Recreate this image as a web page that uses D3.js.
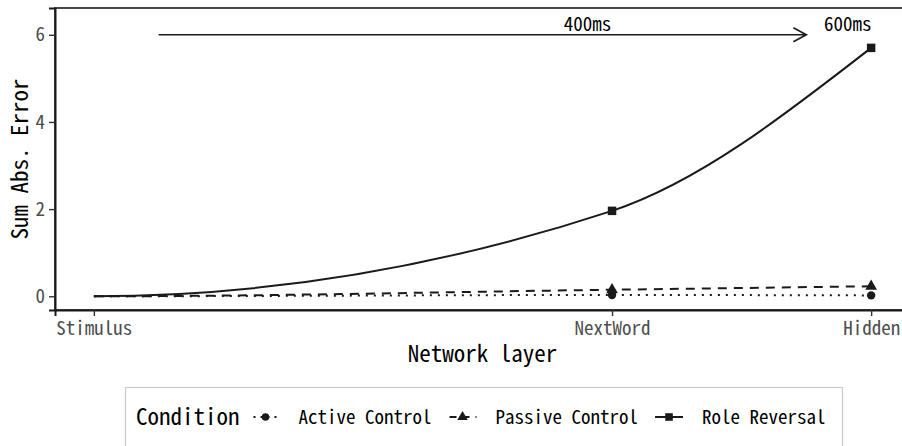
<!DOCTYPE html>
<html>
<head>
<meta charset="utf-8">
<script src="https://cdn.jsdelivr.net/npm/d3@7.9.0/dist/d3.min.js"></script>
<style>
  body { margin: 0; background: #fff; }
  svg { display: block; }
  text { font-family: "Noto Sans Mono CJK JP", "Noto Sans Mono CJK SC", "DejaVu Sans Mono", monospace; }
</style>
</head>
<body>
<svg width="902" height="446"></svg>
<script>
// data
const layers = ['Stimulus', 'NextWord', 'Hidden'];
const layerTimes = [0, 400, 600];           // ms, x positions of the layers
const yTicks = [0, 2, 4, 6];
const conditions = ['Active Control', 'Passive Control', 'Role Reversal'];
const activeControl = [0, 0.03, 0.02];
const passiveControl = [0, 0.15, 0.23];
const roleReversal = [0, 1.96, 5.70];
const arrowTimes = [50, 550];
const arrowLevel = 6;
const noteLabels = ['400ms', '600ms'];
const noteTimes = [381, 582];
const noteLevel = 6.25;

const seriesValues = [activeControl, passiveControl, roleReversal];
const dashes = ['2,6', '9,7', null];
const shapes = [d3.symbolCircle, d3.symbolTriangle, d3.symbolSquare];
const shapeSizes = [55, 60, 72];

const svg = d3.select('svg');
const ink = '#1a1a1a';

const x = d3.scaleLinear().domain([-30, 630]).range([55, 910]);
const y = d3.scaleLinear().domain([-0.315, 6.615]).range([310, 8]);

// cubic hermite curve: flat start, monotone slopes elsewhere
function curveSmooth(context) {
  let pts;
  return {
    areaStart() {}, areaEnd() {},
    lineStart() { pts = []; },
    point(px, py) { pts.push([+px, +py]); },
    lineEnd() {
      const n = pts.length;
      if (!n) return;
      const s = [], m = new Array(n).fill(0);
      for (let i = 0; i < n - 1; i++) s.push((pts[i + 1][1] - pts[i][1]) / (pts[i + 1][0] - pts[i][0]));
      for (let i = 1; i < n - 1; i++) {
        const h0 = pts[i][0] - pts[i - 1][0], h1 = pts[i + 1][0] - pts[i][0];
        const p = (s[i - 1] * h1 + s[i] * h0) / (h0 + h1);
        m[i] = (Math.sign(s[i - 1]) + Math.sign(s[i])) *
          Math.min(Math.abs(s[i - 1]), Math.abs(s[i]), 0.5 * Math.abs(p)) || 0;
      }
      if (n > 2) m[n - 1] = (3 * s[n - 2] - m[n - 2]) / 2;
      context.moveTo(pts[0][0], pts[0][1]);
      for (let i = 0; i < n - 1; i++) {
        const dx = (pts[i + 1][0] - pts[i][0]) / 3;
        context.bezierCurveTo(pts[i][0] + dx, pts[i][1] + dx * m[i],
          pts[i + 1][0] - dx, pts[i + 1][1] - dx * m[i + 1],
          pts[i + 1][0], pts[i + 1][1]);
      }
    }
  };
}

// panel border
svg.append('rect')
  .attr('x', x(-30)).attr('y', y(6.615))
  .attr('width', x(630) - x(-30)).attr('height', y(-0.315) - y(6.615))
  .attr('fill', 'none').attr('stroke', ink).attr('stroke-width', 1.6);

// axes
const xAxis = svg.append('g')
  .attr('transform', `translate(0,${y(-0.315)})`)
  .call(d3.axisBottom(x).tickValues(layerTimes).tickFormat((d, i) => layers[i]).tickSize(6).tickPadding(6));
const yAxis = svg.append('g')
  .attr('transform', `translate(${x(-30)},0)`)
  .call(d3.axisLeft(y).tickValues(yTicks).tickFormat(d3.format('d')).tickSize(6).tickPadding(4));
[xAxis, yAxis].forEach(g => {
  g.select('.domain').attr('stroke', ink).attr('stroke-width', 2);
  g.selectAll('.tick line').attr('stroke', '#333').attr('stroke-width', 1.4);
  g.selectAll('.tick text').attr('fill', '#4d4d4d').style('font-size', '19px')
    .style('font-family', '"Noto Sans Mono CJK JP", "DejaVu Sans Mono", monospace');
});

// axis titles
svg.append('text')
  .attr('x', (x(-30) + x(630)) / 2).attr('y', 362)
  .attr('text-anchor', 'middle').style('font-size', '23px').attr('fill', '#000')
  .text('Network layer');
svg.append('text')
  .attr('transform', `translate(28,${(y(-0.315) + y(6.615)) / 2}) rotate(-90)`)
  .attr('text-anchor', 'middle').style('font-size', '23px').attr('fill', '#000')
  .text('Sum Abs. Error');

// lines and points
const line = d3.line()
  .x((d, i) => x(layerTimes[i]))
  .y(d => y(d))
  .curve(curveSmooth);

seriesValues.forEach((vals, k) => {
  svg.append('path')
    .attr('d', line(vals))
    .attr('fill', 'none')
    .attr('stroke', ink)
    .attr('stroke-width', 2)
    .attr('stroke-dasharray', dashes[k]);
});
seriesValues.forEach((vals, k) => {
  vals.forEach((v, i) => {
    if (i === 0) return;
    svg.append('path')
      .attr('d', d3.symbol(shapes[k], shapeSizes[k])())
      .attr('transform', `translate(${x(layerTimes[i])},${y(v)})`)
      .attr('fill', ink);
  });
});

// time arrow and labels
const ax0 = x(arrowTimes[0]), ax1 = x(arrowTimes[1]), ay = y(arrowLevel);
svg.append('path')
  .attr('d', `M${ax0},${ay}H${ax1}M${ax1 - 13},${ay - 7}L${ax1},${ay}L${ax1 - 13},${ay + 7}`)
  .attr('fill', 'none').attr('stroke', ink).attr('stroke-width', 1.6);
noteLabels.forEach((t, i) => {
  svg.append('text')
    .attr('x', x(noteTimes[i])).attr('y', y(noteLevel))
    .attr('dy', '0.35em')
    .attr('text-anchor', 'middle').style('font-size', '19px').attr('fill', '#000')
    .text(t);
});

// legend
const legend = svg.append('g');
legend.append('rect')
  .attr('x', 125.5).attr('y', 387.5).attr('width', 717).attr('height', 70)
  .attr('fill', '#fff').attr('stroke', '#cccccc').attr('stroke-width', 1.2);
const ly = 417;
let cx = 136;
const title = legend.append('text')
  .attr('x', cx).attr('y', ly).attr('dy', '0.35em')
  .style('font-size', '23px').attr('fill', '#000').text('Condition');
cx += title.node().getComputedTextLength();
conditions.forEach((c, k) => {
  const kc = cx + (k === 0 ? 26 : 31);
  legend.append('line')
    .attr('x1', kc - 14).attr('x2', kc + 14).attr('y1', ly).attr('y2', ly)
    .attr('stroke', ink).attr('stroke-width', 2)
    .attr('stroke-dasharray', k === 0 ? '2,5' : k === 1 ? '7,6' : null)
    .attr('stroke-dashoffset', k === 0 ? -2 : k === 1 ? -1 : 0);
  legend.append('path')
    .attr('d', d3.symbol(shapes[k], shapeSizes[k] * 0.8)())
    .attr('transform', `translate(${kc},${ly})`)
    .attr('fill', ink);
  const lab = legend.append('text')
    .attr('x', kc + 33).attr('y', ly).attr('dy', '0.35em')
    .style('font-size', '19px').attr('fill', '#000').text(c);
  cx = kc + 33 + lab.node().getComputedTextLength();
});
</script>
</body>
</html>
